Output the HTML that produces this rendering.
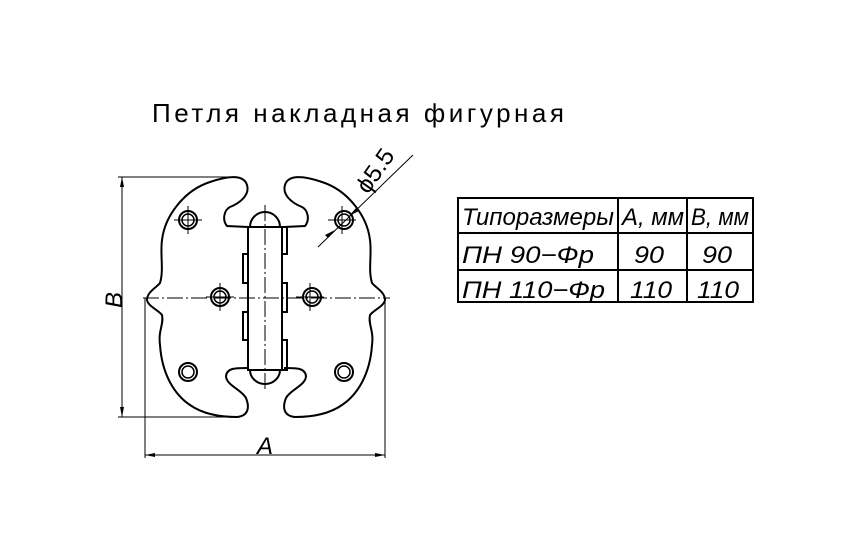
<!DOCTYPE html>
<html><head><meta charset="utf-8"><style>
body{margin:0;background:#fff}
svg{display:block}
text{font-family:"Liberation Sans","DejaVu Sans",sans-serif;fill:#000}
</style></head><body>
<svg width="862" height="558" viewBox="0 0 862 558" xmlns="http://www.w3.org/2000/svg">
<text x="152" y="122" font-size="26" textLength="412" lengthAdjust="spacing">Петля  накладная  фигурная</text>
<g fill="none" stroke="#000" stroke-width="2">
<g id="half">
<path d="M248,227 L227,226 C222,220 224,210 230,207 C240,203 250,195 247,185 C244,175 230,175 210,182 C185,190 165,215 162,240 C160,255 164,270 160,283 C156,288 147,292 147,300 C148,306 158,310 162,315 C164,325 158,330 160,345 C162,375 175,395 190,405 C200,412 215,417 237,417 C248,416 250,408 246,398 C242,390 226,385 226,376 C227,368 235,368 248,368"/>
<circle cx="188" cy="220" r="9"/><circle cx="188" cy="220" r="6" stroke-width="1.5"/>
<circle cx="220" cy="297" r="9"/><circle cx="220" cy="297" r="6" stroke-width="1.5"/>
<circle cx="188" cy="372" r="9"/><circle cx="188" cy="372" r="6" stroke-width="1.5"/>
</g>
<use href="#half" transform="translate(532,0) scale(-1,1)"/>
<rect x="248" y="227" width="34" height="143"/>
<rect x="282" y="227" width="5" height="27"/>
<rect x="282" y="283" width="5" height="29"/>
<rect x="282" y="340" width="5" height="30"/>
<rect x="243" y="254" width="5" height="29"/>
<rect x="243" y="312" width="5" height="28"/>
<path d="M250,227 A15,15 0 0 1 280,227"/>
<path d="M250,370 A15,14 0 0 0 280,370"/>
</g>
<g stroke="#000" stroke-width="1" fill="none">
<path d="M143,298 H390" stroke-dasharray="16,3,2,3"/>
<path d="M265,205 V392" stroke-dasharray="16,3,2,3"/>
<path d="M188,206 V234 M174,220 H202 M342,206 V234 M328,220 H356 M220,283 V311 M206,297 H234 M310,283 V311 M296,297 H324"/>
<path d="M118,177 H237 M118,417 H237 M122,177 V417 M145,298 V458 M385,298 V458 M145,455 H385"/>
<path d="M318,247 L413,155"/>
</g>
<g fill="#000">
<path d="M122,177 l-2,10 h4z M122,417 l-2,-10 h4z M145,455 l10,-2 v4z M385,455 l-10,-2 v4z"/>
<path d="M335,230 l-10,5 l3,3z M349,216 l10,-5 l-3,-3z"/>
</g>
<text x="0" y="0" font-size="24" font-style="italic" transform="translate(122,308) rotate(-90)">B</text>
<text x="257" y="454" font-size="24" font-style="italic">A</text>
<text x="0" y="0" font-size="24" transform="translate(368,195) rotate(-55)" textLength="48" lengthAdjust="spacingAndGlyphs">ϕ5.5</text>
<g fill="none" stroke="#000" stroke-width="2">
<rect x="458" y="198" width="295" height="104"/>
<path d="M458,233 H753 M458,270 H753 M618,198 V302 M687,198 V302"/>
</g>
<g font-size="24" font-style="italic">
<text x="462" y="225" textLength="152" lengthAdjust="spacingAndGlyphs">Типоразмеры</text>
<text x="622" y="225" textLength="62" lengthAdjust="spacingAndGlyphs">A, мм</text>
<text x="691" y="225" textLength="58" lengthAdjust="spacingAndGlyphs">B, мм</text>
<text x="462" y="263" textLength="132" lengthAdjust="spacingAndGlyphs">ПН  90−Фр</text>
<text x="634" y="263" textLength="30" lengthAdjust="spacingAndGlyphs">90</text>
<text x="702" y="263" textLength="30" lengthAdjust="spacingAndGlyphs">90</text>
<text x="462" y="298" textLength="143" lengthAdjust="spacingAndGlyphs">ПН  110−Фр</text>
<text x="630" y="298" textLength="42" lengthAdjust="spacingAndGlyphs">110</text>
<text x="697" y="298" textLength="42" lengthAdjust="spacingAndGlyphs">110</text>
</g>
</svg>
</body></html>
